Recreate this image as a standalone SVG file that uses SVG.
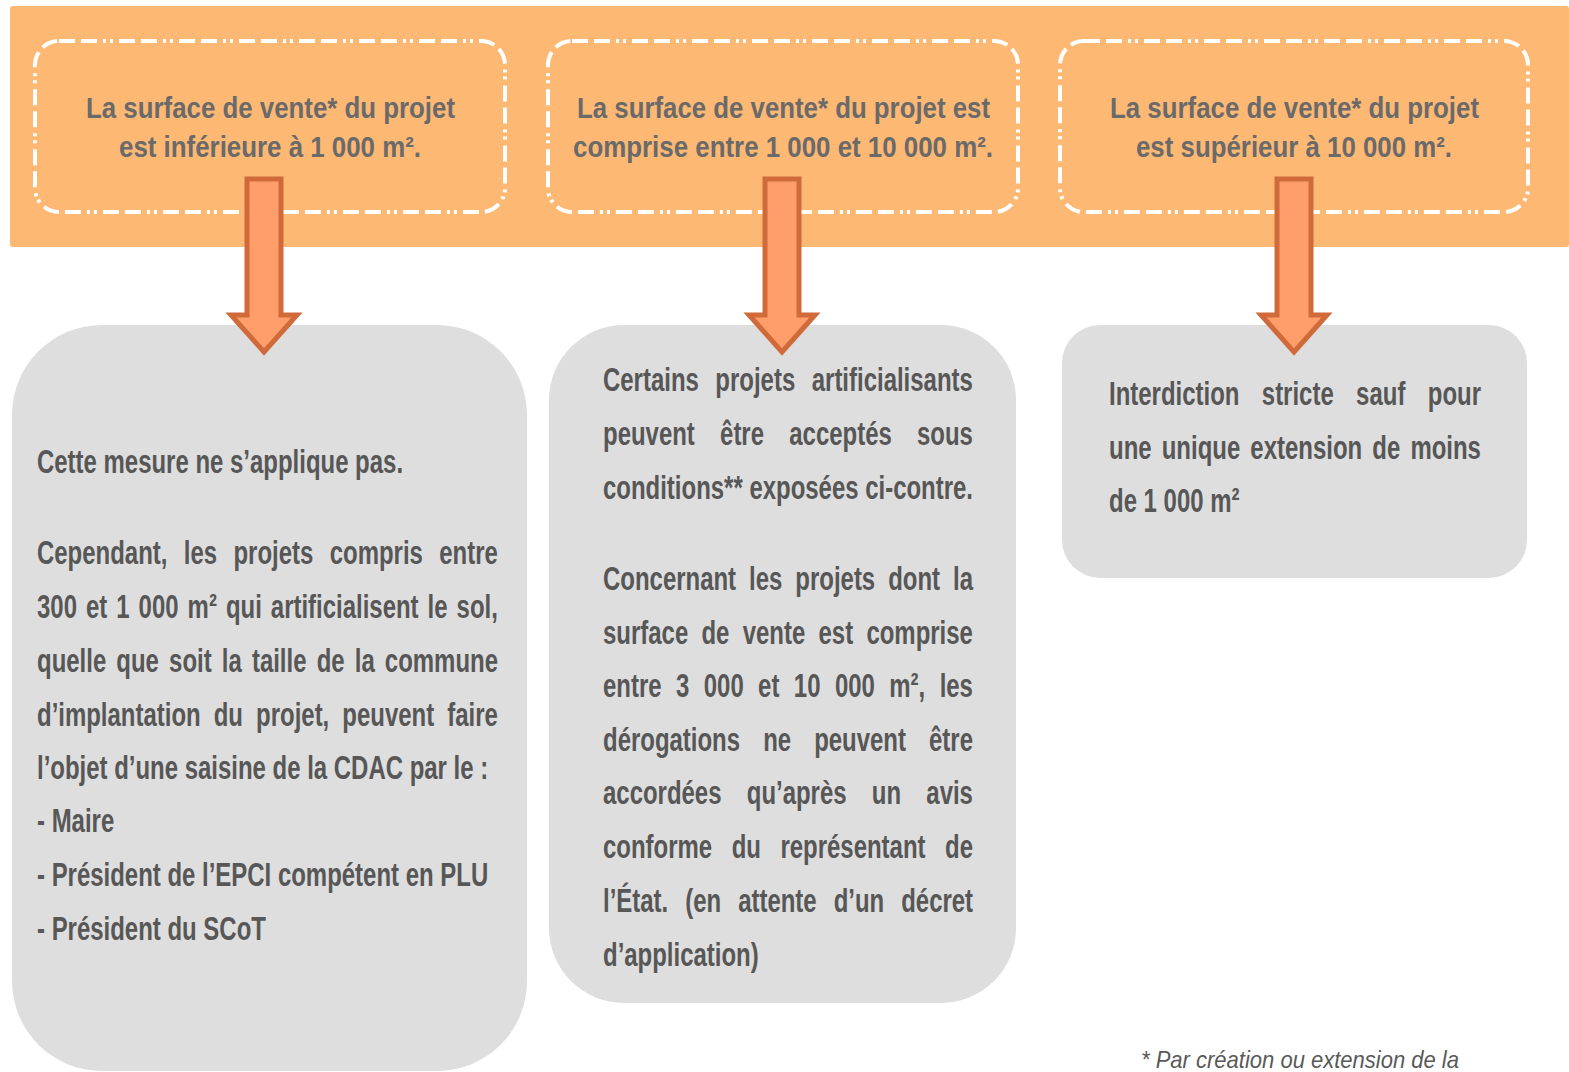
<svg xmlns="http://www.w3.org/2000/svg" width="1569" height="1072" viewBox="0 0 1569 1072">
<style>
.band{fill:#FDB874}
.hdr{fill:none;stroke:#FFFFFF;stroke-width:4;stroke-dasharray:16 6 16 6 3 4 3 6}
.ht{font-family:"Liberation Sans",Arial,sans-serif;font-weight:bold;font-size:29px;fill:#6A6A6A}
.box{fill:#DEDEDE}
.b{font-family:"Liberation Sans",Arial,sans-serif;font-weight:bold;font-size:33px;fill:#575757}
.arr{fill:#FF9E6A;stroke:#D06A3A;stroke-width:5;stroke-linejoin:miter}
.fn{font-family:"Liberation Sans",Arial,sans-serif;font-style:italic;font-size:24px;fill:#595959}
</style>
<rect class="band" x="10" y="6" width="1559" height="241" rx="3"/>

<g id="header1">
<rect class="hdr" x="35" y="41" width="470" height="171" rx="24"/>
<text class="ht" x="86" y="118" textLength="369" lengthAdjust="spacingAndGlyphs">La surface de vente* du projet</text>
<text class="ht" x="119" y="157" textLength="302" lengthAdjust="spacingAndGlyphs">est inférieure à 1 000 m².</text>
</g>
<g id="header2">
<rect class="hdr" x="548" y="41" width="470" height="171" rx="24"/>
<text class="ht" x="577" y="118" textLength="413" lengthAdjust="spacingAndGlyphs">La surface de vente* du projet est</text>
<text class="ht" x="573" y="157" textLength="420" lengthAdjust="spacingAndGlyphs">comprise entre 1 000 et 10 000 m².</text>
</g>
<g id="header3">
<rect class="hdr" x="1060" y="41" width="468" height="171" rx="24"/>
<text class="ht" x="1110" y="118" textLength="369" lengthAdjust="spacingAndGlyphs">La surface de vente* du projet</text>
<text class="ht" x="1136" y="157" textLength="316" lengthAdjust="spacingAndGlyphs">est supérieur à 10 000 m².</text>
</g>

<g id="result1">
<rect class="box" x="12" y="325" width="515" height="746" rx="90"/>
<text class="b" transform="translate(37 473) scale(0.726 1)">Cette mesure ne s’applique pas.</text>
<text class="b" transform="translate(37 564) scale(0.726 1)" word-spacing="13.4">Cependant, les projets compris entre</text>
<text class="b" transform="translate(37 618) scale(0.726 1)" word-spacing="3.25">300 et 1 000 m² qui artificialisent le sol,</text>
<text class="b" transform="translate(37 672) scale(0.726 1)" word-spacing="4.8">quelle que soit la taille de la commune</text>
<text class="b" transform="translate(37 726) scale(0.726 1)" word-spacing="8.85">d’implantation du projet, peuvent faire</text>
<text class="b" transform="translate(37 779) scale(0.726 1)">l’objet d’une saisine de la CDAC par le :</text>
<text class="b" transform="translate(37 832) scale(0.726 1)">- Maire</text>
<text class="b" transform="translate(37 886) scale(0.726 1)">- Président de l’EPCI compétent en PLU</text>
<text class="b" transform="translate(37 940) scale(0.726 1)">- Président du SCoT</text>
</g>

<g id="result2">
<rect class="box" x="549" y="325" width="467" height="678" rx="75"/>
<text class="b" transform="translate(603 391) scale(0.726 1)" word-spacing="13.6">Certains projets artificialisants</text>
<text class="b" transform="translate(603 445) scale(0.726 1)" word-spacing="25.6">peuvent être acceptés sous</text>
<text class="b" transform="translate(603 499) scale(0.726 1)">conditions** exposées ci-contre.</text>
<text class="b" transform="translate(603 590) scale(0.726 1)" word-spacing="8.7">Concernant les projets dont la</text>
<text class="b" transform="translate(603 644) scale(0.726 1)" word-spacing="9.1">surface de vente est comprise</text>
<text class="b" transform="translate(603 697) scale(0.726 1)" word-spacing="10.7">entre 3 000 et 10 000 m², les</text>
<text class="b" transform="translate(603 751) scale(0.726 1)" word-spacing="22.6">dérogations ne peuvent être</text>
<text class="b" transform="translate(603 804) scale(0.726 1)" word-spacing="25.6">accordées qu’après un avis</text>
<text class="b" transform="translate(603 858) scale(0.726 1)" word-spacing="17.7">conforme du représentant de</text>
<text class="b" transform="translate(603 912) scale(0.726 1)" word-spacing="14.25">l’État. (en attente d’un décret</text>
<text class="b" transform="translate(603 966) scale(0.726 1)">d’application)</text>
</g>

<g id="result3">
<rect class="box" x="1062" y="325" width="465" height="253" rx="38"/>
<text class="b" transform="translate(1109 405) scale(0.726 1)" word-spacing="21.7">Interdiction stricte sauf pour</text>
<text class="b" transform="translate(1109 459) scale(0.726 1)" word-spacing="4.8">une unique extension de moins</text>
<text class="b" transform="translate(1109 512) scale(0.726 1)">de 1 000 m²</text>
</g>

<g id="connectors">
<path class="arr" d="M247,179 H281 V315 H297 L264,352 L231,315 H247 Z"/>
<path class="arr" d="M765,179 H799 V315 H815 L782,352 L749,315 H765 Z"/>
<path class="arr" d="M1277,179 H1311 V315 H1327 L1294,352 L1261,315 H1277 Z"/>
</g>

<g id="footnote">
<text class="fn" x="1141" y="1068" textLength="318" lengthAdjust="spacingAndGlyphs">* Par création ou extension de la</text>
</g>
</svg>
